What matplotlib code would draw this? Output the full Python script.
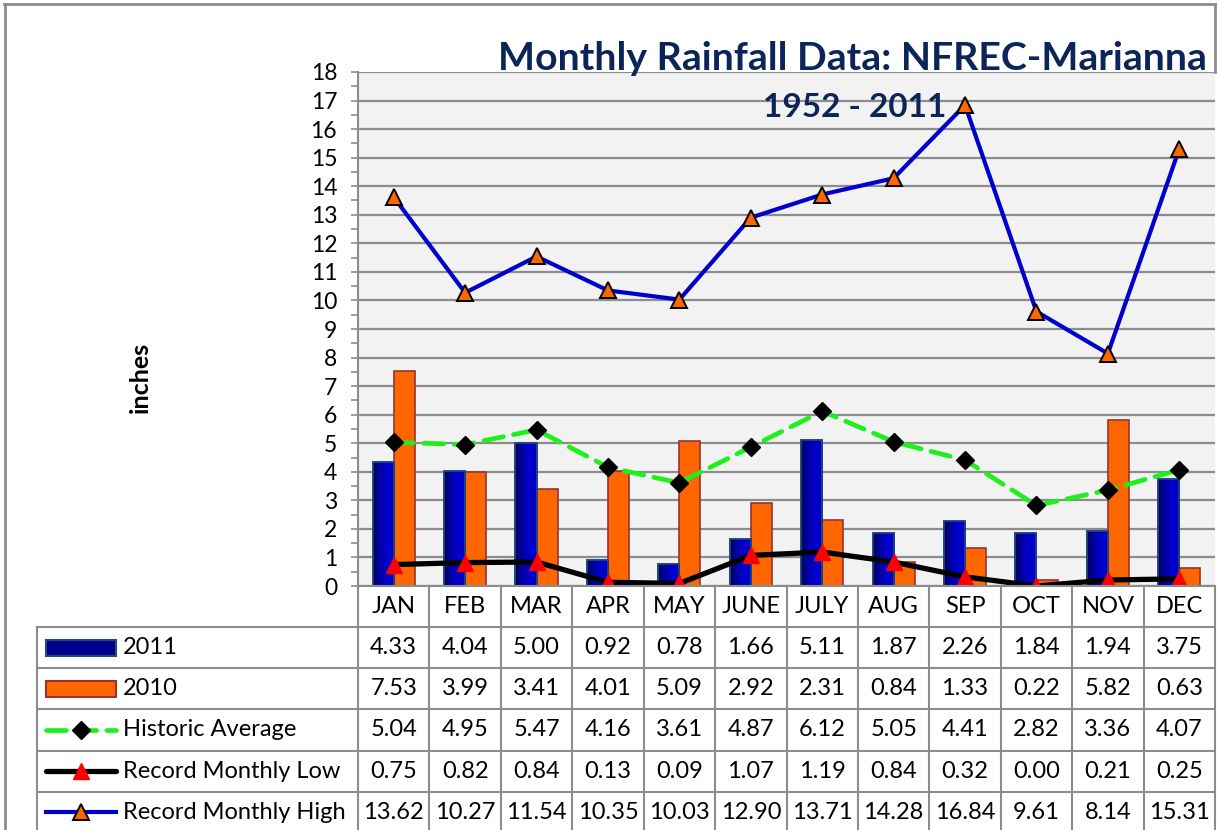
import matplotlib
matplotlib.use('Agg')
import matplotlib.pyplot as plt
from matplotlib.lines import Line2D
from matplotlib.patches import Rectangle
from matplotlib.colors import LinearSegmentedColormap
import numpy as np

plt.rcParams['font.family'] = ['Lato', 'DejaVu Sans']

months = ['JAN', 'FEB', 'MAR', 'APR', 'MAY', 'JUNE', 'JULY', 'AUG', 'SEP', 'OCT', 'NOV', 'DEC']
rain_2011 = [4.33, 4.04, 5.00, 0.92, 0.78, 1.66, 5.11, 1.87, 2.26, 1.84, 1.94, 3.75]
rain_2010 = [7.53, 3.99, 3.41, 4.01, 5.09, 2.92, 2.31, 0.84, 1.33, 0.22, 5.82, 0.63]
hist_avg = [5.04, 4.95, 5.47, 4.16, 3.61, 4.87, 6.12, 5.05, 4.41, 2.82, 3.36, 4.07]
rec_low = [0.75, 0.82, 0.84, 0.13, 0.09, 1.07, 1.19, 0.84, 0.32, 0.00, 0.21, 0.25]
rec_high = [13.62, 10.27, 11.54, 10.35, 10.03, 12.90, 13.71, 14.28, 16.84, 9.61, 8.14, 15.31]
series_names = ['2011', '2010', 'Historic Average', 'Record Monthly Low', 'Record Monthly High']

W, H = 1217, 830
fig = plt.figure(figsize=(W / 100, H / 100), dpi=100)
fig.patch.set_facecolor('white')

def fx(px):
    return px / W

def fy(py):
    return 1 - py / H

# plot area in pixels
x0, x1, y0, y1 = 358, 1215, 72, 586
ax = fig.add_axes([fx(x0), fy(y1), fx(x1) - fx(x0), fy(y0) - fy(y1)])
ax.set_facecolor('#f2f2f2')

x = np.arange(len(months))
bw = 0.295
grid_c = '#8c8c8c'
ax.set_yticks(range(0, 19))
ax.set_yticks(np.arange(0.5, 18, 1), minor=True)
ax.yaxis.grid(True, color=grid_c, lw=1.6, zorder=0)
ax.set_axisbelow(True)
ax.tick_params(axis='y', which='both', direction='out', length=5, width=1.2, color=grid_c,
               labelsize=16.5, pad=10)
ax.set_xticks([])
for s in ['top', 'right']:
    ax.spines[s].set_visible(False)
ax.spines['left'].set_color(grid_c)
ax.spines['left'].set_linewidth(1.5)
ax.spines['bottom'].set_color(grid_c)
ax.spines['bottom'].set_linewidth(1.5)

bars1 = ax.bar(x - bw / 2, rain_2011, bw, color='#0000b4', edgecolor='#1f4e79', lw=1.2, zorder=2)
bars2 = ax.bar(x + bw / 2, rain_2010, bw, color='#ff6600', edgecolor='#993333', lw=1.2, zorder=2)

# horizontal gradient on the 2011 bars
grad = np.linspace(0, 1, 64).reshape(1, -1)
bcmap = LinearSegmentedColormap.from_list('b', ['#00005a', '#0000a8', '#0000d0', '#0000c0'])
for b in bars1:
    im = ax.imshow(grad, cmap=bcmap, aspect='auto', zorder=2.1,
                   extent=[b.get_x(), b.get_x() + b.get_width(), 0, b.get_height()])
    im.set_clip_path(b)
    ax.add_patch(Rectangle((b.get_x(), 0), b.get_width(), b.get_height(), fill=False,
                           edgecolor='#1f4e79', lw=1.2, zorder=2.2))
ax.set_xlim(-0.5, 11.5)
ax.set_ylim(0, 18)

ax.plot(x, hist_avg, color='#1ef01e', lw=3.4, linestyle=(0, (4.2, 2.2)), dash_capstyle='round',
        marker='D', ms=9, mfc='black', mec='black', zorder=4)
ax.plot(x, rec_low, color='black', lw=3.8, marker='^', ms=11, mfc='#ff0000', mec='#ff0000', zorder=5)
ax.plot(x, rec_high, color='#0000cc', lw=3.0, marker='^', ms=11, mfc='#ff6600', mec='black',
        mew=1.4, zorder=5)
for sp in ax.spines.values():
    sp.set_zorder(6)

# titles and axis label
navy = '#0b2559'
fig.text(fx(1207), fy(70), 'Monthly Rainfall Data: NFREC-Marianna', ha='right', va='baseline',
         fontsize=28.3, fontweight='bold', color=navy)
fig.text(fx(855), fy(117), '1952 - 2011', ha='center', va='baseline',
         fontsize=24, fontweight='bold', color=navy)
fig.text(fx(140), fy(377), 'inches', rotation=90, ha='center', va='center',
         fontsize=18, fontweight='bold', color='black')

# outer chart border
lc = '#8c8c8c'
fig.add_artist(Line2D([fx(4.5), fx(4.5)], [fy(4), fy(830)], color=lc, lw=2))
fig.add_artist(Line2D([fx(4), fx(1215)], [fy(4), fy(4)], color=lc, lw=2))
fig.add_artist(Line2D([fx(1215), fx(1215)], [fy(4), fy(72)], color=lc, lw=2))

# data table
col_w = (x1 - x0) / 12
row_top = 586
hdr_h = 41
row_h = 41.2
tleft = 37
rows_y = [row_top + hdr_h + i * row_h for i in range(6)]
tfs = 17

# header row
for i in range(13):
    xe = x0 + i * col_w
    fig.add_artist(Line2D([fx(xe), fx(xe)], [fy(row_top), fy(833)], color=lc, lw=1.5))
for i, m in enumerate(months):
    fig.text(fx(x0 + (i + 0.5) * col_w), fy(row_top + hdr_h / 2), m, ha='center', va='center',
             fontsize=tfs)
fig.add_artist(Line2D([fx(tleft), fx(tleft)], [fy(rows_y[0]), fy(833)], color=lc, lw=1.5))
for yy in rows_y[:5]:
    fig.add_artist(Line2D([fx(tleft), fx(x1)], [fy(yy), fy(yy)], color=lc, lw=1.5))

table_vals = [rain_2011, rain_2010, hist_avg, rec_low, rec_high]
for r, vals in enumerate(table_vals):
    yc = rows_y[r] + row_h / 2
    for i, v in enumerate(vals):
        fig.text(fx(x0 + (i + 0.5) * col_w), fy(yc), f'{v:.2f}', ha='center', va='center',
                 fontsize=tfs)
    fig.text(fx(123), fy(yc), series_names[r], ha='left', va='center', fontsize=tfs)

# legend keys in the table
k0, k1 = 46, 116
yc = rows_y[0] + row_h / 2
fig.add_artist(Rectangle((fx(k0), fy(yc + 8)), fx(k1) - fx(k0), fy(yc - 8) - fy(yc + 8),
                         facecolor='#000090', edgecolor='#1f4e79', lw=1.5))
yc = rows_y[1] + row_h / 2
fig.add_artist(Rectangle((fx(k0), fy(yc + 8)), fx(k1) - fx(k0), fy(yc - 8) - fy(yc + 8),
                         facecolor='#ff6600', edgecolor='#993333', lw=1.5))
yc = rows_y[2] + row_h / 2
fig.add_artist(Line2D([fx(k0), fx(k1)], [fy(yc), fy(yc)], color='#1ef01e', lw=3.4,
                      linestyle=(0, (4.2, 2.2)), dash_capstyle='round'))
fig.add_artist(Line2D([fx(81)], [fy(yc)], marker='D', ms=9, color='black', lw=0))
yc = rows_y[3] + row_h / 2
fig.add_artist(Line2D([fx(k0), fx(k1)], [fy(yc), fy(yc)], color='black', lw=3.8,
                      solid_capstyle='round'))
fig.add_artist(Line2D([fx(81)], [fy(yc)], marker='^', ms=11, mfc='#ff0000', mec='#ff0000', lw=0))
yc = rows_y[4] + row_h / 2
fig.add_artist(Line2D([fx(k0), fx(k1)], [fy(yc), fy(yc)], color='#0000cc', lw=3.0))
fig.add_artist(Line2D([fx(81)], [fy(yc)], marker='^', ms=11, mfc='#ff6600', mec='black',
                      mew=1.4, lw=0))

fig.savefig('out.png', dpi=100)
